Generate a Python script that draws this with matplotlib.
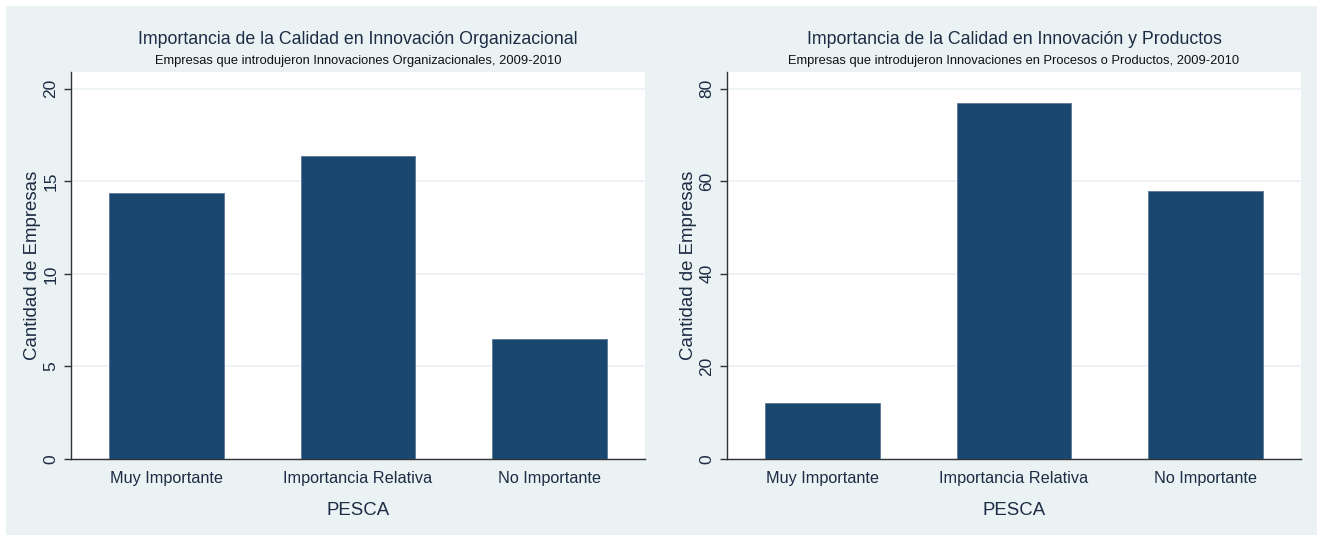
import matplotlib
matplotlib.use("Agg")
import matplotlib.pyplot as plt
from matplotlib.patches import Rectangle

plt.rcParams["font.family"] = ["Liberation Sans", "DejaVu Sans"]

BG = "#EAF2F3"
NAVY = "#1A476F"
TXT = "#1c2c44"

categorias = ["Muy Importante", "Importancia Relativa", "No Importante"]
org_vals = [14.35, 16.35, 6.5]
prod_vals = [12, 77, 58]

titulos = ["Importancia de la Calidad en Innovación Organizacional",
           "Importancia de la Calidad en Innovación y Productos"]
subtitulos = ["Empresas que introdujeron Innovaciones Organizacionales, 2009-2010",
              "Empresas que introdujeron Innovaciones en Procesos o Productos, 2009-2010"]
yticks_list = [[0, 5, 10, 15, 20], [0, 20, 40, 60, 80]]
ylims = [(0, 20.9), (0, 83.6)]

W, H = 1317, 535
fig = plt.figure(figsize=(W / 100, H / 100), dpi=100)
fig.patch.set_facecolor("white")
fig.patches.append(Rectangle((6 / W, -0.01), 1.01 - 6 / W, 1.01 - 6 / H,
                             transform=fig.transFigure, facecolor=BG,
                             edgecolor="none", zorder=-10))

# axes boxes in pixels: left, right, top, bottom
boxes = [(71, 645, 72, 459), (727, 1301, 72, 459)]
datos = [org_vals, prod_vals]

for i in range(2):
    l, r, t, b = boxes[i]
    ax = fig.add_axes([l / W, 1 - b / H, (r - l) / W, (b - t) / H])
    ax.set_facecolor("white")
    x = range(len(categorias))
    ax.bar(x, datos[i], width=0.6, color=NAVY, edgecolor="#5a7896",
           linewidth=0.6, zorder=3)
    ax.set_xlim(-0.5, 2.5)
    ax.set_ylim(*ylims[i])
    ax.set_yticks(yticks_list[i])
    ax.set_xticks(list(x))
    ax.set_xticklabels(categorias, fontsize=11.7, color=TXT)
    ax.tick_params(axis="x", length=0, pad=9)
    ax.tick_params(axis="y", length=5, width=1, color="#333333",
                   labelsize=12.5, labelcolor=TXT, labelrotation=90, pad=4)
    for lab in ax.get_yticklabels():
        lab.set_va("center")
    ax.grid(axis="y", color="#EEF4F5", linewidth=1.5, zorder=0)
    ax.set_axisbelow(True)
    for s in ["top", "right"]:
        ax.spines[s].set_visible(False)
    for s in ["left", "bottom"]:
        ax.spines[s].set_color("#333333")
        ax.spines[s].set_linewidth(1)
    ax.set_ylabel("Cantidad de Empresas", fontsize=13.4, color=TXT, labelpad=2)
    ax.set_xlabel("PESCA", fontsize=13.4, color=TXT, labelpad=11)
    cx = (l + r) / 2 / W
    fig.text(cx, 1 - 39 / H, titulos[i], ha="center", va="center",
             fontsize=12.8, color=TXT)
    fig.text(cx, 1 - 61 / H, subtitulos[i], ha="center", va="center",
             fontsize=9.3, color="#111111")

fig.savefig("out.png", dpi=100, facecolor=fig.get_facecolor())
